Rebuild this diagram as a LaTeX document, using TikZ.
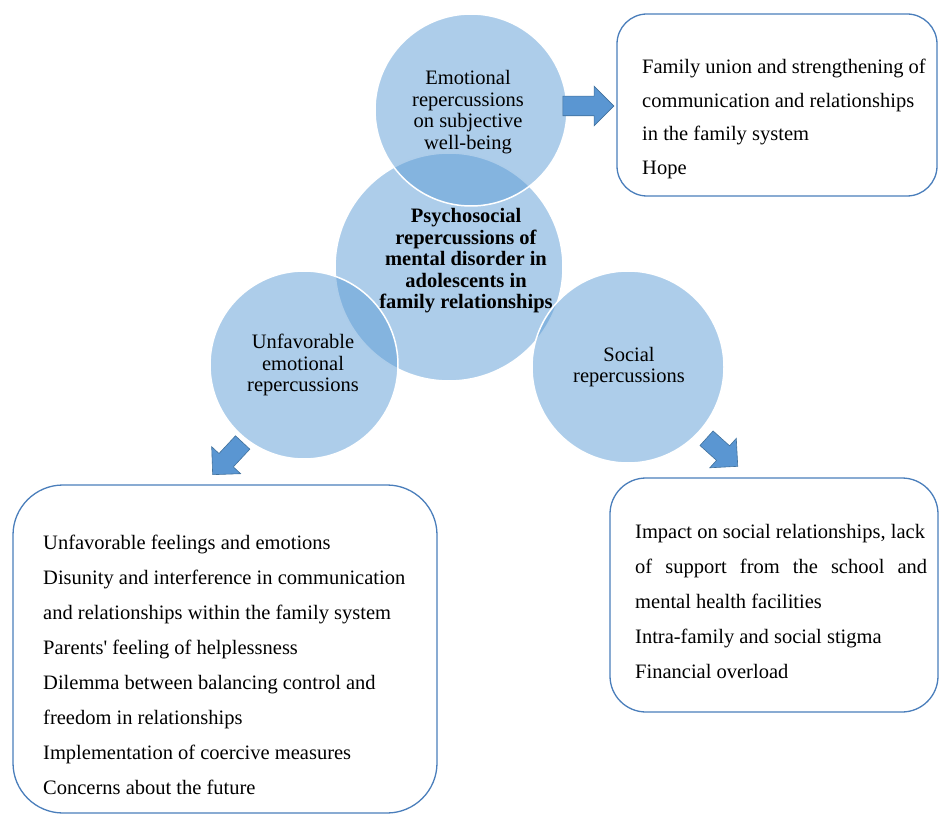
\documentclass[tikz,border=0pt]{standalone}
\usepackage{fontspec}
\setmainfont{Liberation Serif}
\usetikzlibrary{shapes.arrows,positioning}
\definecolor{bubbleblue}{HTML}{5B9BD5}
\definecolor{arrowblue}{HTML}{5A96D2}
\definecolor{arrowedge}{HTML}{41719C}
\definecolor{boxedge}{HTML}{4A7EBB}
\tikzset{
  bubble/.style={circle,fill=bubbleblue,fill opacity=0.5,draw=white,line width=1.5pt,inner sep=0pt},
  bubbletext/.style={align=center,font=\fontsize{20.5}{21.5}\selectfont},
  blockarrow/.style={single arrow,fill=arrowblue,draw=arrowedge,line width=0.6pt,inner xsep=0pt,inner ysep=9.5pt,single arrow head extend=10pt,single arrow tip angle=90},
  listbox/.style={rectangle,draw=boxedge,line width=1.3pt,fill=white,inner sep=0pt},
  listtext/.style={anchor=base west,inner sep=0pt,font=\fontsize{20.5}{35}\selectfont}
}

\begin{document}
\begin{tikzpicture}[x=1pt,y=-1pt]
\useasboundingbox (0,0) rectangle (940,818);
% circles: hub first, the three around it on top
\node[bubble,minimum size=228pt] (hub) at (449,267) {};
\node[bubble,minimum size=192pt] (topc) at (471,110) {};
\node[bubble,minimum size=188pt] (leftc) at (304,365) {};
\node[bubble,minimum size=192pt] (rightc) at (628,367) {};
\node[bubbletext,font=\fontsize{20.5}{21.5}\selectfont\bfseries] (hubtext) at (466,261) {Psychosocial\\repercussions of\\mental disorder in\\adolescents in\\family relationships};
\node[bubbletext] (toptext) at (468,112) {Emotional\\repercussions\\on subjective\\well-being};
\node[bubbletext] (lefttext) at (303,365) {Unfavorable\\emotional\\repercussions};
\node[bubbletext] (righttext) at (629,367) {Social\\repercussions};
% outcome boxes
\node[listbox,rounded corners=30pt,minimum width=320pt,minimum height=182pt] (boxtop) at (777,105) {};
\node[listbox,rounded corners=50pt,minimum width=424pt,minimum height=328pt] (boxleft) at (225,649) {};
\node[listbox,rounded corners=36pt,minimum width=328pt,minimum height=234pt] (boxright) at (774,595) {};
\node[listtext,font=\fontsize{20.5}{33.5}\selectfont] (listtop) at (642,74) {\parbox[t]{290pt}{\raggedright
  Family union and strengthening of\\
  communication and relationships\\
  in the family system\\
  Hope}};
\node[listtext] (listleft) at (43,549) {\parbox[t]{390pt}{\raggedright
  Unfavorable feelings and emotions\\
  Disunity and interference in communication\\
  and relationships within the family system\\
  Parents\textquotesingle{} feeling of helplessness\\
  Dilemma between balancing control and\\
  freedom in relationships\\
  Implementation of coercive measures\\
  Concerns about the future}};
\node[listtext] (listright) at (635,538) {\parbox[t]{292pt}{\raggedright
  Impact on social relationships, lack\\
  \makebox[292pt][s]{of support from the school and}\\
  mental health facilities\\
  Intra-family and social stigma\\
  Financial overload}};
% block arrows from circles to boxes
\node[blockarrow,minimum height=51pt] (arrtop) at (583.5,106) {};
\node[blockarrow,minimum height=44pt,rotate=-133] (arrleft) at (231,455) {};
\node[blockarrow,minimum height=42pt,rotate=-42] (arrright) at (718.5,449) {};
\end{tikzpicture}
\end{document}
